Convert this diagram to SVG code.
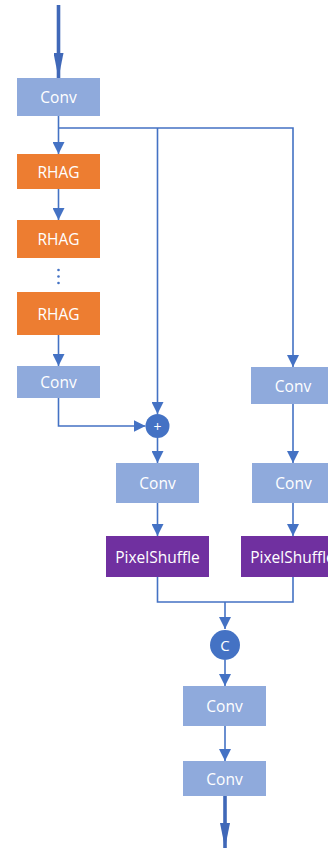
<svg xmlns="http://www.w3.org/2000/svg" width="328" height="848" viewBox="0 0 328 848">
  <defs>
    <marker id="arr" viewBox="0 0 12 12" refX="12" refY="6" markerWidth="12" markerHeight="12" markerUnits="userSpaceOnUse" orient="auto">
      <path d="M0,0 L12,6 L0,12 z" fill="#4472c4"/>
    </marker>
    <marker id="arrBig" viewBox="0 0 25 10" refX="25" refY="5" markerWidth="25" markerHeight="10" markerUnits="userSpaceOnUse" orient="auto">
      <path d="M0,0 L25,5 L0,10 z" fill="#4068b8"/>
    </marker>
    <style>
      .box text, .op text { font-family: "Open Sans", "Noto Sans", sans-serif; fill: #ffffff; text-anchor: middle; dominant-baseline: central; }
      .box text { font-size: 15.5px; }
      .conv rect { fill: #8faadc; }
      .rhag rect { fill: #ed7d31; }
      .ps rect { fill: #7030a0; }
      .op circle { fill: #4472c4; }
      .edge { fill: none; stroke: #4472c4; stroke-width: 1.6; }
      .thick { fill: none; stroke: #4068b8; stroke-width: 3.6; }
    </style>
  </defs>
  <rect width="328" height="848" fill="#ffffff"/>

  <g id="connectors">
    <path class="thick" d="M58.5,5 V78" marker-end="url(#arrBig)"/>
    <path class="edge" d="M58.5,116 V154" marker-end="url(#arr)"/>
    <path class="edge" d="M58.5,128 H293 V367" marker-end="url(#arr)"/>
    <path class="edge" d="M157.5,128 V414" marker-end="url(#arr)"/>
    <path class="edge" d="M58.5,189 V220" marker-end="url(#arr)"/>
    <path class="edge" d="M58.5,335 V366" marker-end="url(#arr)"/>
    <path class="edge" d="M58.5,398 V426 H145.5" marker-end="url(#arr)"/>
    <path class="edge" d="M157.5,438 V463" marker-end="url(#arr)"/>
    <path class="edge" d="M293,404 V463" marker-end="url(#arr)"/>
    <path class="edge" d="M157.5,503 V536" marker-end="url(#arr)"/>
    <path class="edge" d="M293,503 V536" marker-end="url(#arr)"/>
    <path class="edge" d="M157.5,577 V602 H293 V577"/>
    <path class="edge" d="M225,602 V629" marker-end="url(#arr)"/>
    <path class="edge" d="M225,660 V686" marker-end="url(#arr)"/>
    <path class="edge" d="M225,726 V761" marker-end="url(#arr)"/>
    <path class="thick" d="M225,796 V848" marker-end="url(#arrBig)"/>
    <!-- ellipsis between stacked RHAG blocks -->
    <g fill="#4472c4">
      <circle cx="58.5" cy="270" r="1.3"/>
      <circle cx="58.5" cy="276.5" r="1.3"/>
      <circle cx="58.5" cy="283" r="1.3"/>
    </g>
  </g>

  <g id="conv-in" class="box conv"><rect x="17" y="78" width="83" height="38"/><text x="58.5" y="97">Conv</text></g>
  <g id="rhag-1" class="box rhag"><rect x="17" y="154" width="83" height="35"/><text x="58.5" y="171.5">RHAG</text></g>
  <g id="rhag-2" class="box rhag"><rect x="17" y="220" width="83" height="38"/><text x="58.5" y="239">RHAG</text></g>
  <g id="rhag-n" class="box rhag"><rect x="17" y="292" width="83" height="43"/><text x="58.5" y="313.5">RHAG</text></g>
  <g id="conv-body" class="box conv"><rect x="17" y="366" width="83" height="32"/><text x="58.5" y="382">Conv</text></g>
  <g id="conv-skip" class="box conv"><rect x="251" y="367" width="84" height="37"/><text x="293" y="385.5">Conv</text></g>
  <g id="add" class="op"><circle cx="157.5" cy="426" r="12"/><text x="157.5" y="426" font-size="14">+</text></g>
  <g id="conv-up-a" class="box conv"><rect x="116" y="463" width="83" height="40"/><text x="157.5" y="483">Conv</text></g>
  <g id="conv-up-b" class="box conv"><rect x="252" y="463" width="83" height="40"/><text x="293.5" y="483">Conv</text></g>
  <g id="ps-a" class="box ps"><rect x="106" y="536" width="103" height="41"/><text x="157.5" y="556.5">PixelShuffle</text></g>
  <g id="ps-b" class="box ps"><rect x="241" y="536" width="103" height="41"/><text x="292.5" y="556.5">PixelShuffle</text></g>
  <g id="concat" class="op"><circle cx="225" cy="645" r="15"/><text x="225" y="645" font-size="15">C</text></g>
  <g id="conv-out-1" class="box conv"><rect x="183" y="686" width="83" height="40"/><text x="224.5" y="706">Conv</text></g>
  <g id="conv-out-2" class="box conv"><rect x="183" y="761" width="83" height="35"/><text x="224.5" y="778.5">Conv</text></g>
</svg>
